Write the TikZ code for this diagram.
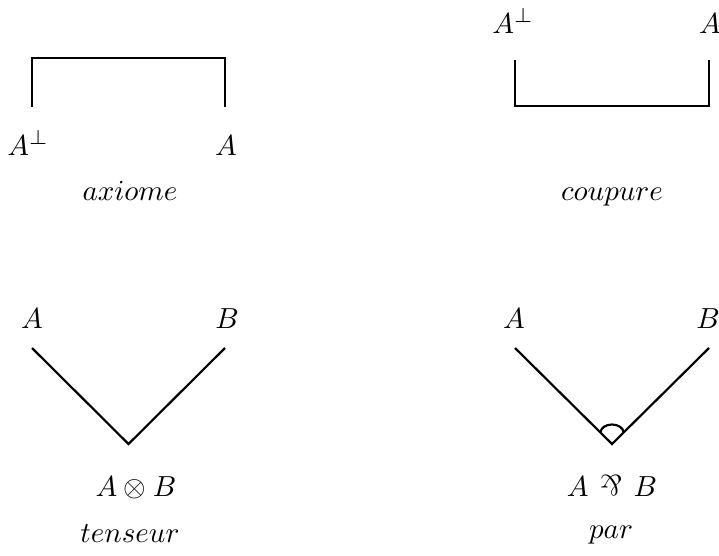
\documentclass[tikz,border=0pt]{standalone}
\usepackage{amsmath,amssymb}
\usepackage{graphicx}
\usepackage{tikz}
\usetikzlibrary{positioning, calc}
\newcommand{\parsym}{\mathbin{\,\rotatebox[origin=c]{180}{$\&$}\,}}

\begin{document}
\begin{tikzpicture}[
    x=0.01212cm, y=-0.01212cm,
    wire/.style={line width=0.75pt, line join=miter},
    lbl/.style={anchor=base, inner sep=0pt},
    rulename/.style={anchor=base, inner sep=0pt}
]
\useasboundingbox (0,0) rectangle (719,555);

% ---------------- axiome ----------------
\node[lbl] (axl) at (28,155) {$A^{\perp}$};
\node[lbl] (axr) at (226,155) {$A$};
\coordinate (axlend) at (32,107);
\coordinate (axrend) at (225,107);
\draw[wire] (axlend) -- ++(0,-49) -| (axrend);
\node[rulename] (axname) at (130,200) {$axiome$};

% ---------------- coupure ----------------
\node[lbl] (cul) at (513,33) {$A^{\perp}$};
\node[lbl] (cur) at (710,33) {$A$};
\coordinate (culend) at (515,60);
\coordinate (curend) at (709,60);
\draw[wire] (culend) -- ++(0,46) -| (curend);
\node[rulename] (cuname) at (612,200) {$coupure$};

% ---------------- tenseur ----------------
\node[lbl] (tA) at (32,328) {$A$};
\node[lbl] (tB) at (227,328) {$B$};
\coordinate (tAend) at (32,348);
\coordinate (tBend) at (225,348);
\coordinate (tvert) at (128.5,444);
\draw[wire] (tAend) -- (tvert) -- (tBend);
\node[lbl] (tconc) at (136,496) {$A\otimes B$};
\node[rulename] (tname) at (130,542) {$tenseur$};

% ---------------- par ----------------
\node[lbl] (pA) at (514,328) {$A$};
\node[lbl] (pB) at (708,328) {$B$};
\coordinate (pAend) at (515,348);
\coordinate (pBend) at (709,348);
\coordinate (pvert) at (612,444);
\draw[wire] (pAend) -- (pvert) -- (pBend);
\draw[wire] ($(pvert)+(-11.5,-11.5)$) arc[start angle=180, end angle=0, x radius=11.5, y radius=-8];
\node[lbl] (pconc) at (612,496) {$A\parsym B$};
\node[rulename] (pname) at (611,538) {$par$};

\end{tikzpicture}
\end{document}
